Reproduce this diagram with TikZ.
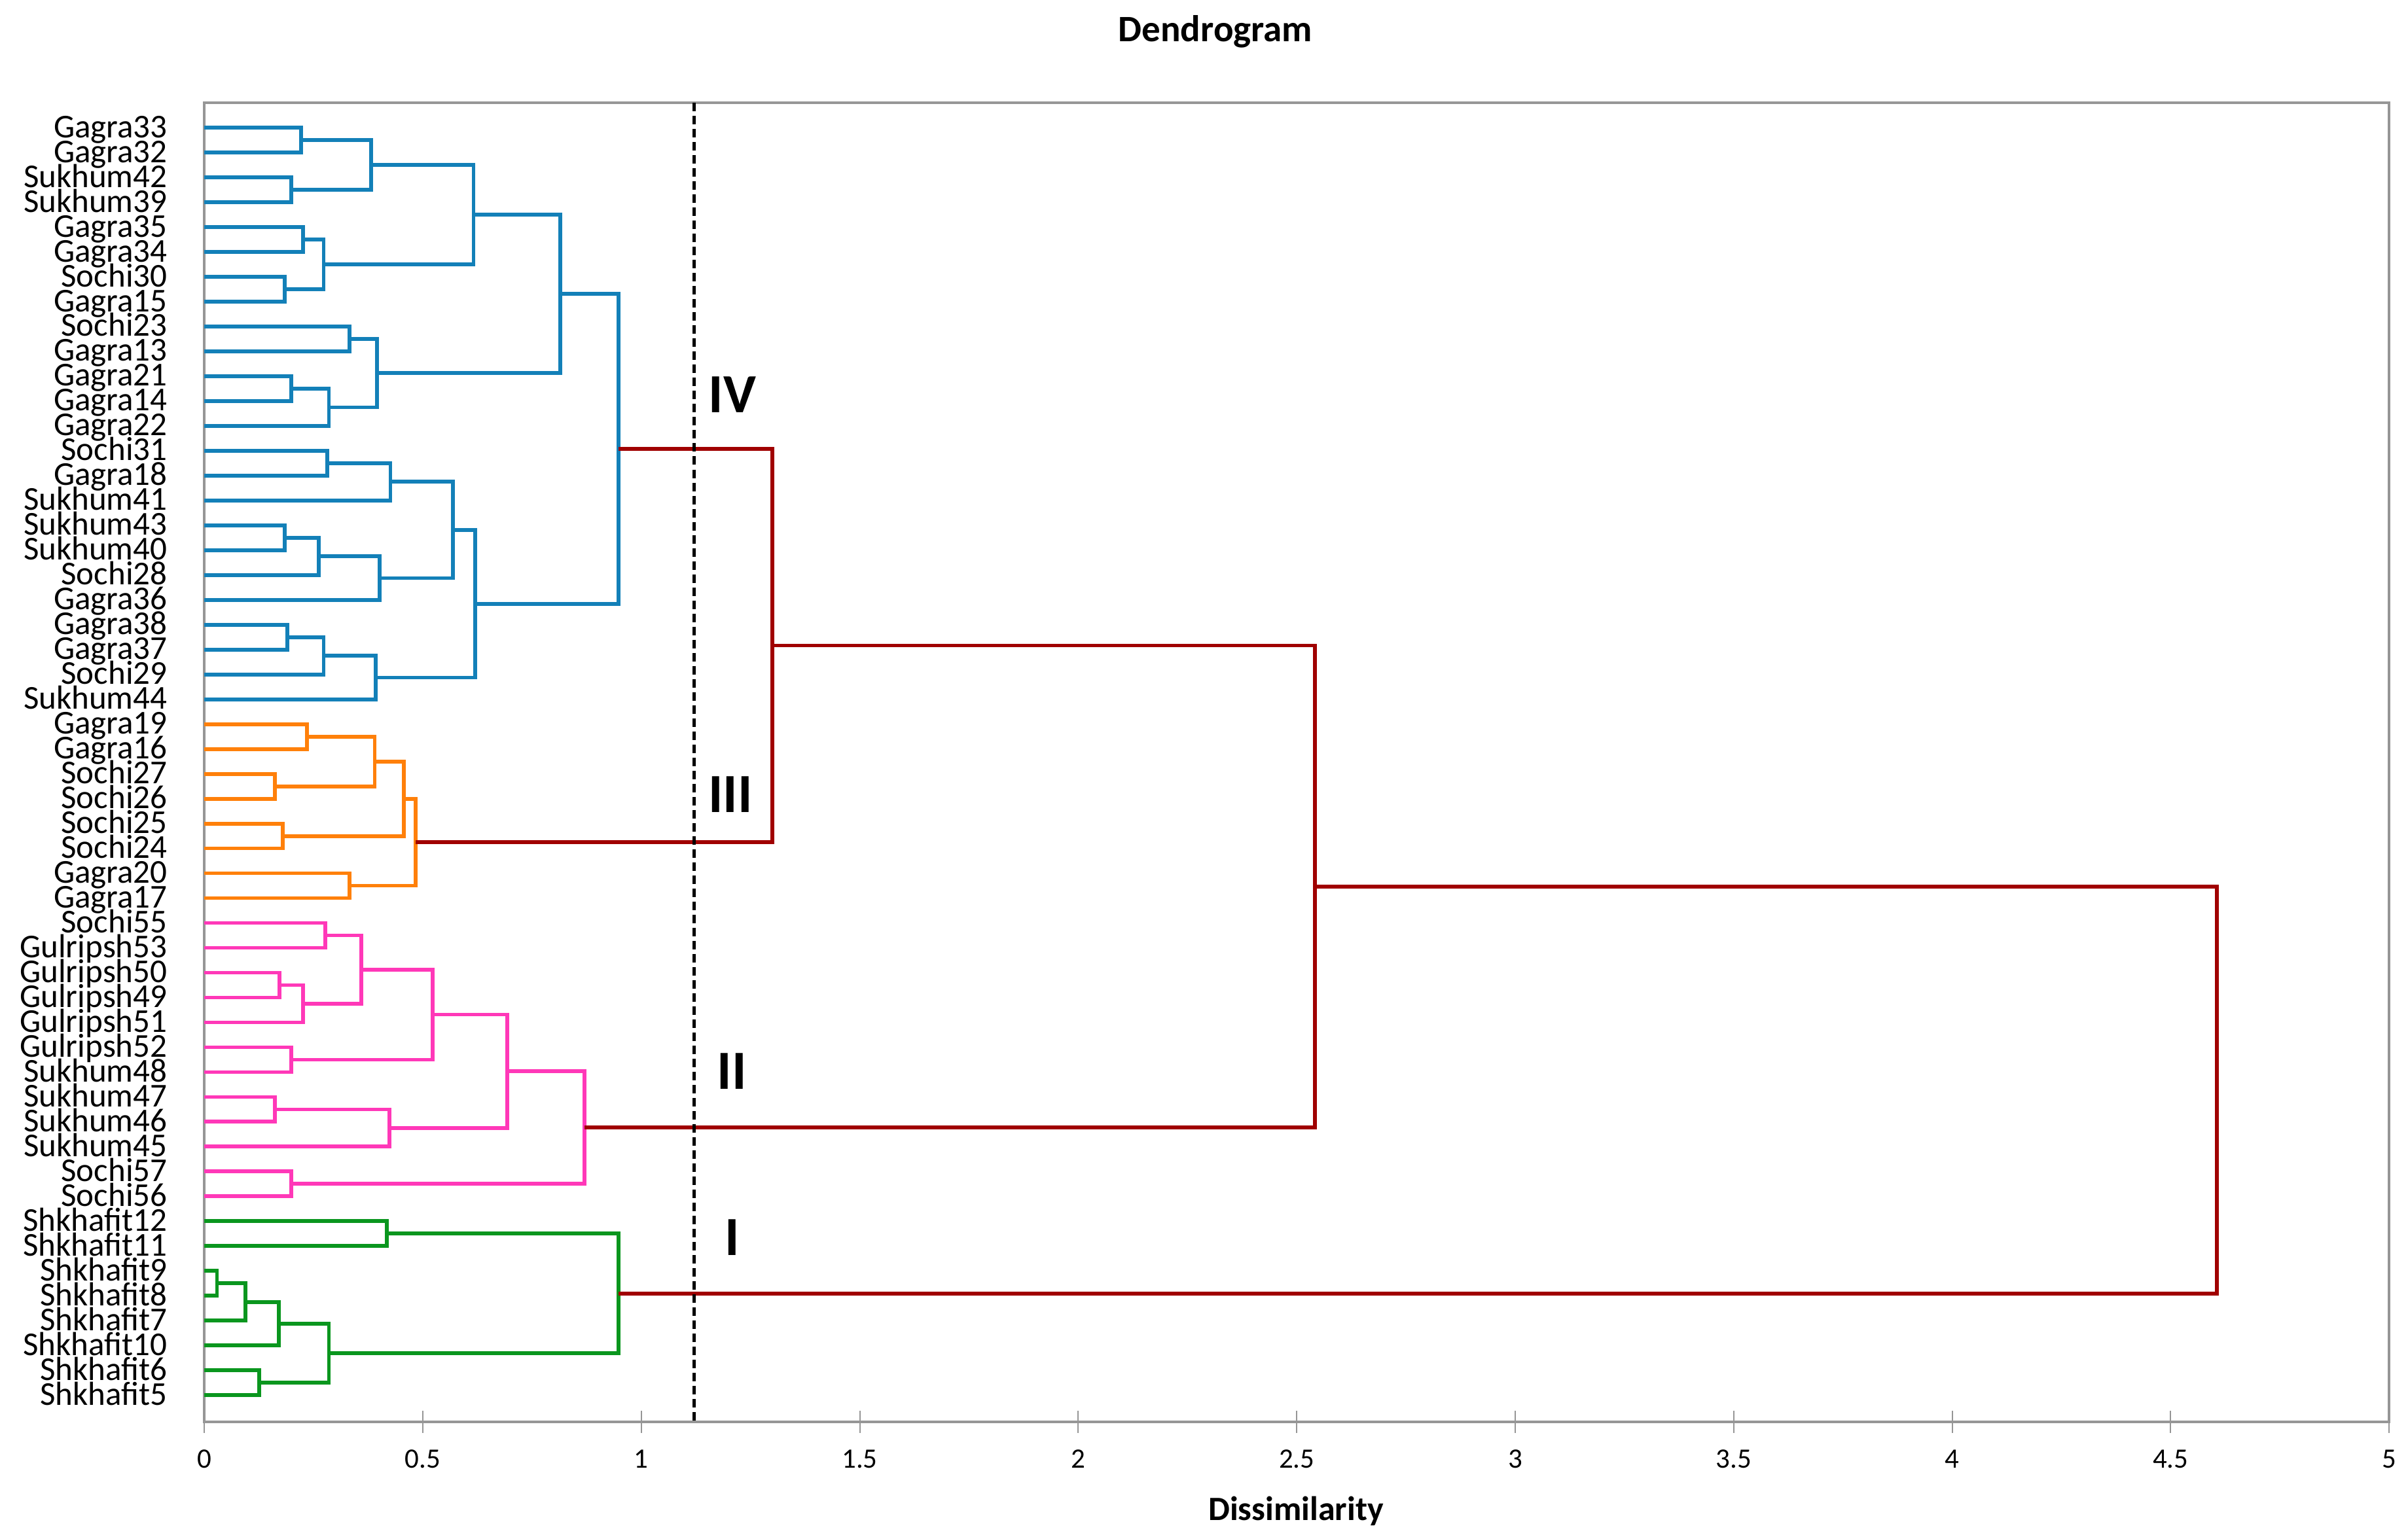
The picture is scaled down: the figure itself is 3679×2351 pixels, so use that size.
\documentclass[tikz,border=0pt]{standalone}
\usepackage{fontspec}
\setmainfont{Carlito}
\usetikzlibrary{calc}

\definecolor{clblue}{RGB}{19,128,184}
\definecolor{clorange}{RGB}{255,128,10}
\definecolor{clpink}{RGB}{255,56,184}
\definecolor{clgreen}{RGB}{10,150,30}
\definecolor{clred}{RGB}{160,0,0}
\definecolor{axisgray}{RGB}{150,150,150}

% one merge of the dendrogram: name, first child, second child, height, style
\newcommand{\dmerge}[5]{%
  \coordinate (m#1) at ($(#2)!0.5!(#3)$);
  \coordinate (#1) at (#4,0 |- m#1);
  \draw[#5] (#2) -| (#1) |- (#3);
}

\begin{document}
\begin{tikzpicture}[x=0.01cm, y=-0.01cm,
  link/.style={line width=0.058cm},
  bluelink/.style={link, draw=clblue},
  orangelink/.style={link, draw=clorange},
  pinklink/.style={link, draw=clpink},
  greenlink/.style={link, draw=clgreen},
  redlink/.style={link, draw=clred},
  frame/.style={draw=axisgray, line width=0.045cm},
  tick/.style={draw=axisgray, line width=0.02cm},
  cutline/.style={draw=black, line width=0.045cm, dash pattern=on 0.13cm off 0.07cm},
  leaflabel/.style={anchor=base east, inner sep=0pt, font=\fontsize{14.5}{16}\selectfont},
  ticklabel/.style={anchor=base, inner sep=0pt, font=\fontsize{12.2}{14}\selectfont},
  grouplabel/.style={anchor=base, inner sep=0pt, font=\fontsize{24}{28}\selectfont\bfseries}]
\useasboundingbox (0,0) rectangle (3679,2351);

\node (title) [anchor=base, inner sep=0pt, font=\fontsize{16.2}{19}\selectfont\bfseries] at (1857,63) {Dendrogram};
\node (xlabel) [anchor=base, inner sep=0pt, font=\fontsize{14.8}{17}\selectfont\bfseries] at (1980,2323) {Dissimilarity};

\begin{scope}[xshift=3.12cm, yshift=-1.95cm, x=6.672cm, y=-0.3796cm]
% plot frame and axis ticks
\draw[frame] (0,-1) rectangle (5,52.08);
\foreach \t [count=\k] in {0,0.5,1,1.5,2,2.5,3,3.5,4,4.5,5} {
  \coordinate (tk\k) at (\t,52.08);
  \draw[tick] ([yshift=0.17cm]tk\k) -- ([yshift=-0.17cm]tk\k);
  \node[ticklabel] (tl\k) at ([yshift=-0.7cm]tk\k) {\t};
}

% leaves
\foreach \lname [count=\i from 0] in {Gagra33,Gagra32,Sukhum42,Sukhum39,Gagra35,Gagra34,
  Sochi30,Gagra15,Sochi23,Gagra13,Gagra21,Gagra14,Gagra22,Sochi31,Gagra18,Sukhum41,
  Sukhum43,Sukhum40,Sochi28,Gagra36,Gagra38,Gagra37,Sochi29,Sukhum44,
  Gagra19,Gagra16,Sochi27,Sochi26,Sochi25,Sochi24,Gagra20,Gagra17,
  Sochi55,Gulripsh53,Gulripsh50,Gulripsh49,Gulripsh51,Gulripsh52,Sukhum48,Sukhum47,
  Sukhum46,Sukhum45,Sochi57,Sochi56,
  Shkhafit12,Shkhafit11,Shkhafit9,Shkhafit8,Shkhafit7,Shkhafit10,Shkhafit6,Shkhafit5} {
  \coordinate (l\i) at (0,\i);
  \node[leaflabel] (t\i) at ([xshift=-0.56cm, yshift=-0.15cm]l\i) {\lname};
}

% cluster IV
\dmerge{b1}{l0}{l1}{0.222}{bluelink}
\dmerge{b2}{l2}{l3}{0.199}{bluelink}
\dmerge{b3}{b1}{b2}{0.382}{bluelink}
\dmerge{b4}{l4}{l5}{0.226}{bluelink}
\dmerge{b5}{l6}{l7}{0.184}{bluelink}
\dmerge{b6}{b4}{b5}{0.273}{bluelink}
\dmerge{b7}{b3}{b6}{0.616}{bluelink}
\dmerge{b8}{l8}{l9}{0.332}{bluelink}
\dmerge{b9}{l10}{l11}{0.199}{bluelink}
\dmerge{b10}{b9}{l12}{0.285}{bluelink}
\dmerge{b11}{b8}{b10}{0.395}{bluelink}
\dmerge{b12}{b7}{b11}{0.815}{bluelink}
\dmerge{b13}{l13}{l14}{0.281}{bluelink}
\dmerge{b14}{b13}{l15}{0.426}{bluelink}
\dmerge{b15}{l16}{l17}{0.184}{bluelink}
\dmerge{b16}{b15}{l18}{0.262}{bluelink}
\dmerge{b17}{b16}{l19}{0.401}{bluelink}
\dmerge{b18}{b14}{b17}{0.569}{bluelink}
\dmerge{b19}{l20}{l21}{0.190}{bluelink}
\dmerge{b20}{b19}{l22}{0.273}{bluelink}
\dmerge{b21}{b20}{l23}{0.392}{bluelink}
\dmerge{b22}{b18}{b21}{0.620}{bluelink}
\dmerge{b23}{b12}{b22}{0.948}{bluelink}

% cluster III
\dmerge{o1}{l24}{l25}{0.235}{orangelink}
\dmerge{o2}{l26}{l27}{0.161}{orangelink}
\dmerge{o3}{o1}{o2}{0.390}{orangelink}
\dmerge{o4}{l28}{l29}{0.180}{orangelink}
\dmerge{o5}{o3}{o4}{0.456}{orangelink}
\dmerge{o6}{l30}{l31}{0.332}{orangelink}
\dmerge{o7}{o5}{o6}{0.483}{orangelink}

% cluster II
\dmerge{p1}{l32}{l33}{0.277}{pinklink}
\dmerge{p2}{l34}{l35}{0.172}{pinklink}
\dmerge{p3}{p2}{l36}{0.226}{pinklink}
\dmerge{p4}{p1}{p3}{0.359}{pinklink}
\dmerge{p5}{l37}{l38}{0.199}{pinklink}
\dmerge{p6}{p4}{p5}{0.523}{pinklink}
\dmerge{p7}{l39}{l40}{0.161}{pinklink}
\dmerge{p8}{p7}{l41}{0.424}{pinklink}
\dmerge{p9}{p6}{p8}{0.693}{pinklink}
\dmerge{p10}{l42}{l43}{0.199}{pinklink}
\dmerge{p11}{p9}{p10}{0.870}{pinklink}

% cluster I
\dmerge{g1}{l44}{l45}{0.418}{greenlink}
\dmerge{g2}{l46}{l47}{0.029}{greenlink}
\dmerge{g3}{g2}{l48}{0.094}{greenlink}
\dmerge{g4}{g3}{l49}{0.170}{greenlink}
\dmerge{g5}{l50}{l51}{0.125}{greenlink}
\dmerge{g6}{g4}{g5}{0.285}{greenlink}
\dmerge{g7}{g1}{g6}{0.948}{greenlink}

% joins between clusters
\dmerge{r1}{b23}{o7}{1.300}{redlink}
\dmerge{r2}{r1}{p11}{2.542}{redlink}
\dmerge{r3}{r2}{g7}{4.606}{redlink}

% cut level
\coordinate (cuttop) at (1.121,-1);
\coordinate (cutbot) at (1.121,52.08);
\draw[cutline] (cuttop) -- (cutbot);
\end{scope}

\node[grouplabel] (gIV) at (1119,630) {IV};
\node[grouplabel] (gIII) at (1116,1241) {III};
\node[grouplabel] (gII) at (1118,1664) {II};
\node[grouplabel] (gI) at (1119,1918) {I};
\end{tikzpicture}
\end{document}
